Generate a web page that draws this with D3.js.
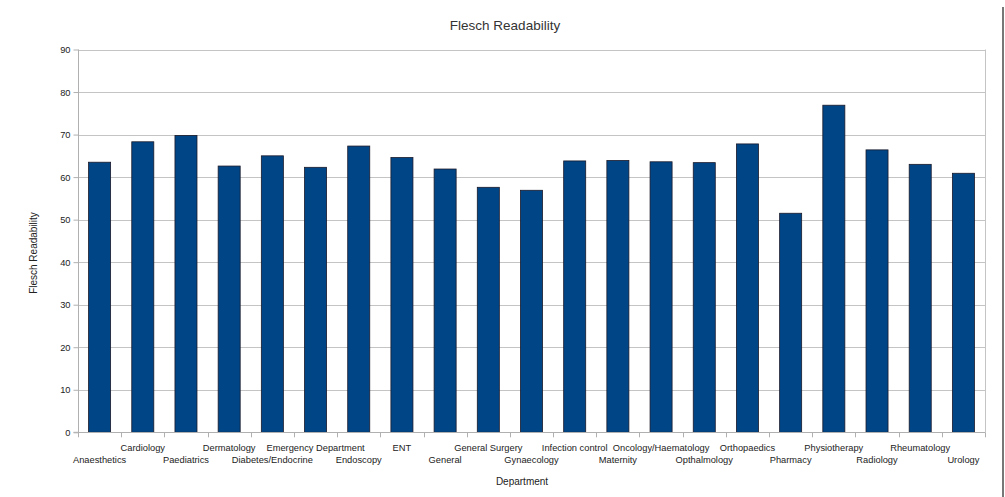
<!DOCTYPE html>
<html><head><meta charset="utf-8">
<script src="https://cdn.jsdelivr.net/npm/d3@7"></script>
<style>body{margin:0;background:#fff;}svg{display:block;font-family:"Liberation Sans",Arial,sans-serif;}</style>
</head><body>
<svg id="c" width="1005" height="497"></svg>
<script>
const departments = ["Anaesthetics","Cardiology","Paediatrics","Dermatology","Diabetes/Endocrine","Emergency Department","Endoscopy","ENT","General","General Surgery","Gynaecology","Infection control","Maternity","Oncology/Haematology","Opthalmology","Orthopaedics","Pharmacy","Physiotherapy","Radiology","Rheumatology","Urology"];
const readability = [63.5,68.3,69.8,62.6,65.0,62.3,67.3,64.6,61.9,57.6,56.9,63.8,63.9,63.6,63.4,67.8,51.5,76.9,66.4,63.0,60.9];
const yTicks = [0,10,20,30,40,50,60,70,80,90];

const svg = d3.select("#c");
const L=78, R=985, T=49.5, B=432.3;
const x = d3.scaleBand().domain(departments).range([L,R]).paddingInner(0.49).paddingOuter(0.245);
const y = d3.scaleLinear().domain([0,90]).range([B,T]);

// grid
svg.append("g").selectAll("line").data(yTicks).join("line")
  .attr("x1",L).attr("x2",R).attr("y1",d=>Math.round(y(d))+0.5).attr("y2",d=>Math.round(y(d))+0.5)
  .attr("stroke","#c4c4c4").attr("stroke-width",1);
// right border
svg.append("line").attr("x1",R+0.5).attr("x2",R+0.5).attr("y1",T).attr("y2",B).attr("stroke","#c4c4c4");

// y axis
const ya = svg.append("g").attr("transform",`translate(${L+0.5},0)`).call(d3.axisLeft(y).tickValues(yTicks).tickSize(5).tickPadding(3));
ya.select(".domain").attr("stroke","#b0b0b0").attr("d",`M-5,${B}H0V${T}`);
ya.selectAll(".tick line").attr("stroke","#b0b0b0");
ya.selectAll(".tick text").attr("font-size","9.3px").attr("fill","#222").attr("font-family","Liberation Sans, Arial, sans-serif");

// bars
svg.append("g").selectAll("rect").data(departments).join("rect")
  .attr("x",d=>x(d)).attr("width",x.bandwidth())
  .attr("y",(d,i)=>y(readability[i])).attr("height",(d,i)=>B-y(readability[i]))
  .attr("fill","#004586").attr("stroke","#1a1a2a").attr("stroke-width",0.8);

// x axis
const step = x.step();
const bounds = d3.range(departments.length+1).map(i=>L + i*(R-L)/departments.length);
svg.append("g").selectAll("line").data(bounds).join("line")
  .attr("x1",d=>Math.round(d)+0.5).attr("x2",d=>Math.round(d)+0.5).attr("y1",B).attr("y2",B+5)
  .attr("stroke","#b0b0b0");
svg.append("line").attr("x1",L).attr("x2",R).attr("y1",Math.round(B)+0.5).attr("y2",Math.round(B)+0.5).attr("stroke","#b0b0b0");

svg.append("g").selectAll("text").data(departments).join("text")
  .attr("x",d=>x(d)+x.bandwidth()/2)
  .attr("y",(d,i)=> i%2===0 ? 462.5 : 450.5)
  .attr("text-anchor","middle").attr("font-size","9.3px").attr("fill","#222")
  .text(d=>d);

// titles
svg.append("text").attr("x",505).attr("y",30).attr("text-anchor","middle").attr("font-size","13.5px").attr("fill","#333").text("Flesch Readability");
svg.append("text").attr("x",522).attr("y",485).attr("text-anchor","middle").attr("font-size","10px").attr("fill","#222").text("Department");
svg.append("text").attr("transform","translate(37,253) rotate(-90)").attr("text-anchor","middle").attr("font-size","10px").attr("fill","#222").text("Flesch Readability");

// frame edge at right
svg.append("line").attr("x1",1003).attr("x2",1003).attr("y1",7).attr("y2",497).attr("stroke","#777").attr("stroke-width",2);
</script>
</body></html>
